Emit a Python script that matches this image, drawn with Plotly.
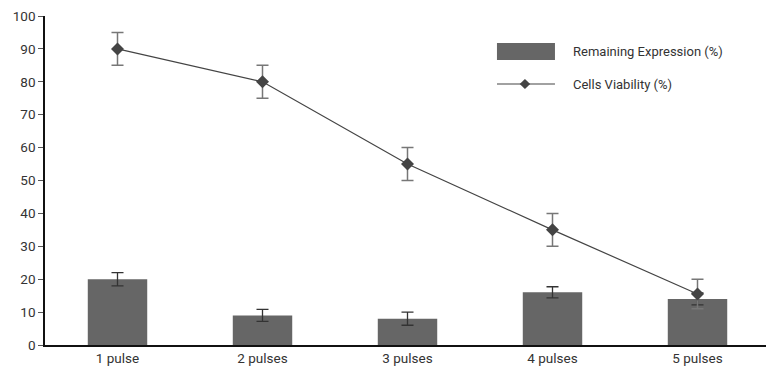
import plotly.graph_objects as go

categories = ["1 pulse", "2 pulses", "3 pulses", "4 pulses", "5 pulses"]
expression = [20, 9, 8, 16, 14]
expression_err = [2, 1.8, 2, 1.7, 1.8]
viability = [90, 80, 55, 35, 15.5]
viability_err = [5, 5, 5, 5, 4.5]
y_ticks = [0, 10, 20, 30, 40, 50, 60, 70, 80, 90, 100]
legend_labels = ["Remaining Expression (%)", "Cells Viability (%)"]

bar_color = "#666666"
line_color = "#444444"
text_color = "#333333"
font = "Roboto, Liberation Sans, sans-serif"

fig = go.Figure()
fig.add_trace(go.Bar(
    x=categories, y=expression, name=legend_labels[0],
    marker=dict(color=bar_color, line=dict(width=0)), width=0.41,
    error_y=dict(type="data", array=expression_err, color="#333333", thickness=1.3, width=6),
    showlegend=False,
))
fig.add_trace(go.Scatter(
    x=categories, y=viability, name=legend_labels[1], mode="lines+markers",
    line=dict(color=line_color, width=1.2),
    marker=dict(symbol="diamond", size=10, color=line_color),
    error_y=dict(type="data", array=viability_err, color="#777777", thickness=1.5, width=6),
    showlegend=False,
))

# custom legend (matches the wide rectangular swatch of the reference)
lx0, lx1 = 0.6234, 0.7034
dx, dy = 0.0072, 0.0152
dcx, dcy = 0.662, 0.7933
shapes = [
    dict(type="rect", xref="paper", yref="paper", x0=lx0, x1=lx1, y0=0.8663, y1=0.9179,
         fillcolor=bar_color, line=dict(width=0)),
    dict(type="line", xref="paper", yref="paper", x0=lx0, x1=lx1, y0=dcy, y1=dcy,
         line=dict(color=line_color, width=1.2)),
    dict(type="path", xref="paper", yref="paper",
         path=f"M {dcx-dx},{dcy} L {dcx},{dcy+dy} L {dcx+dx},{dcy} L {dcx},{dcy-dy} Z",
         fillcolor=line_color, line=dict(width=0)),
]
annotations = [
    dict(xref="paper", yref="paper", x=0.7255, y=0.8906, text=legend_labels[0],
         showarrow=False, xanchor="left", yanchor="middle",
         font=dict(family=font, size=13, color=text_color)),
    dict(xref="paper", yref="paper", x=0.7255, y=dcy, text=legend_labels[1],
         showarrow=False, xanchor="left", yanchor="middle",
         font=dict(family=font, size=13, color=text_color)),
]

fig.update_layout(
    width=766, height=365,
    margin=dict(l=37, r=4, t=8, b=28, autoexpand=False),
    paper_bgcolor="white", plot_bgcolor="white",
    font=dict(family=font, size=13, color=text_color),
    showlegend=False,
    shapes=shapes, annotations=annotations,
)
fig.update_xaxes(showline=True, linecolor="#111111", linewidth=2, ticks="",
                 showgrid=False, automargin=False, tickfont=dict(size=13.5, color=text_color))
fig.update_yaxes(range=[0, 100], tickvals=y_ticks, showline=True, linecolor="#111111",
                 linewidth=1.5, ticks="outside", ticklen=5, tickcolor="#555555",
                 showgrid=False, zeroline=False, ticklabeloverflow="allow", automargin=False,
                 tickfont=dict(size=13.5, color=text_color))

fig.write_html("out.html")
